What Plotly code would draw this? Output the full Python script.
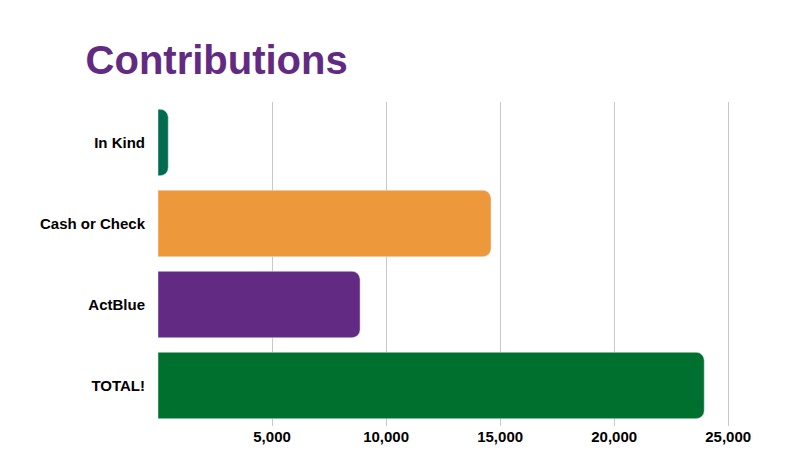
import plotly.graph_objects as go

categories = ["In Kind", "Cash or Check", "ActBlue", "TOTAL!"]
values = [450, 14600, 8860, 23950]
colors = ["#006B4F", "#ED983A", "#622A82", "#00702F"]
tick_vals = [5000, 10000, 15000, 20000, 25000]
tick_text = ["5,000", "10,000", "15,000", "20,000", "25,000"]

fig = go.Figure(go.Bar(
    y=categories, x=values, orientation="h",
    marker=dict(color=colors, cornerradius=8),
    hoverinfo="x+y",
))

fig.update_layout(
    width=808, height=455,
    paper_bgcolor="white", plot_bgcolor="white",
    margin=dict(l=150, r=65, t=94, b=37),
    bargap=0.18,
    showlegend=False,
    title=dict(text="<b>Contributions</b>", x=0.096, xanchor="left", y=0.885, yanchor="middle",
               automargin=False,
               font=dict(family="Liberation Sans, Arial", size=40, color="#622A82")),
    font=dict(family="Liberation Sans, Arial", size=15, color="black"),
)
fig.update_xaxes(range=[0, 26000], tickvals=tick_vals, ticktext=tick_text, automargin=False,
                 showgrid=True, gridcolor="#C8C8C8", gridwidth=1, zeroline=False,
                 tickfont=dict(size=15, weight="bold"), showline=False)
fig.update_yaxes(autorange="reversed", showline=False, ticks="", ticklabelstandoff=12,
                 automargin=False, tickfont=dict(size=15, weight="bold"))

fig.write_html("out.html")
